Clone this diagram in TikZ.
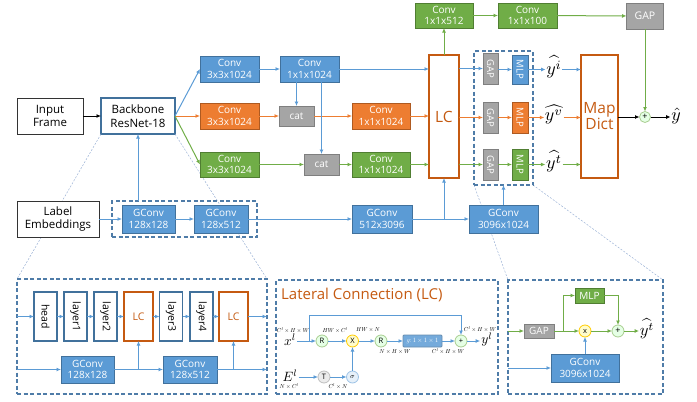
\documentclass[tikz,border=0pt]{standalone}
\usepackage[no-math]{fontspec}
\setmainfont{Open Sans}
\usetikzlibrary{arrows.meta,calc}
\definecolor{cB}{HTML}{5B9BD5}
\definecolor{cBd}{HTML}{41719C}
\definecolor{cO}{HTML}{ED7D31}
\definecolor{cOd}{HTML}{AE5A21}
\definecolor{cG}{HTML}{70AD47}
\definecolor{cGd}{HTML}{507E32}
\definecolor{cY}{HTML}{A5A5A5}
\definecolor{cYd}{HTML}{7F7F7F}
\definecolor{cLC}{HTML}{C55A11}
\definecolor{thinc}{HTML}{9DB3D6}
\definecolor{dashc}{HTML}{4F7CA8}
\newcommand{\mth}[2]{\scalebox{#1}{$#2$}}
\begin{document}
\begin{tikzpicture}[x=1pt,y=-1pt,
  bx/.style={draw, line width=0.8pt, inner sep=0pt, outer sep=0pt, align=center, text=white, font=\fontsize{10}{11.5}\selectfont},
  blu/.style={bx, fill=cB, draw=cBd},
  org/.style={bx, fill=cO, draw=cOd},
  grn/.style={bx, fill=cG, draw=cGd},
  gry/.style={bx, fill=cY, draw=cYd},
  wbox/.style={draw=black!80, line width=0.9pt, fill=white, inner sep=0pt, outer sep=0pt, align=center, text=black, font=\fontsize{11.5}{13.5}\selectfont},
  lcbox/.style={draw=cLC, line width=1.6pt, fill=white, inner sep=0pt, outer sep=0pt, align=center, text=cLC, font=\fontsize{15.5}{16}\selectfont},
  lay/.style={draw=cBd, line width=1.3pt, fill=white, inner sep=0pt, outer sep=0pt, minimum width=23pt, minimum height=49pt, font=\fontsize{10.5}{12}\selectfont},
  lcs/.style={draw=cLC, line width=1.3pt, fill=white, inner sep=0pt, outer sep=0pt, minimum width=29pt, minimum height=49pt, text=cLC, font=\fontsize{10.5}{12}\selectfont},
  dbox/.style={draw=dashc, line width=1.2pt, dash pattern=on 4pt off 2.5pt, inner sep=0pt, outer sep=0pt},
  arr/.style={-{Latex[length=4.5pt,width=4pt]}, line width=1pt},
  thin/.style={draw=thinc, line width=0.5pt, dash pattern=on 2pt off 1.5pt},
  rc/.style={circle, minimum size=12pt, inner sep=0pt, outer sep=0pt, draw, line width=0.8pt, font=\fontsize{7.5}{8}\selectfont},
  gc/.style={rc, fill=green!10!white, draw=cG!60!white},
  yc/.style={rc, fill=yellow!20!white, draw=orange!40!yellow},
  sl/.style={inner sep=0pt},
  ml/.style={inner sep=0.5pt},
  mm/.style={inner sep=1pt},
  lb/.style={draw=cB}, lo/.style={draw=cO}, lg/.style={draw=cG}
]
\useasboundingbox (0,0) rectangle (697,402);

% backbone first (for thin lines)
\node[wbox, draw=cBd, line width=1.6pt, minimum width=74pt, minimum height=36pt] (bb) at (138,116) {Backbone\\ResNet-18};
\coordinate (p1nw) at (17,279);
\coordinate (p1ne) at (267,279);
\coordinate (dbsw) at (474,185);
\coordinate (dbse) at (533,185);
\coordinate (p3nw) at (508,280);
\coordinate (p3ne) at (663,280);
\draw[thin] (bb.south west) -- (p1nw);
\draw[thin] (bb.south east) -- (p1ne);
\draw[thin] (dbsw) -- (p3nw);
\draw[thin] (dbse) -- (p3ne);

% main nodes
\node[wbox, minimum width=66pt, minimum height=36pt] (inp) at (50,116) {Input\\Frame};
\node[wbox, minimum width=82pt, minimum height=36pt] (lab) at (58,219) {Label\\Embeddings};

\node[blu, minimum width=59pt, minimum height=26pt] (c1b) at (229.5,69) {Conv\\3x3x1024};
\node[blu, minimum width=59pt, minimum height=26pt] (c2b) at (309.5,69) {Conv\\1x1x1024};
\node[org, minimum width=59pt, minimum height=26pt] (c1o) at (229.5,116) {Conv\\3x3x1024};
\node[gry, minimum width=35pt, minimum height=20pt] (cat1) at (296.5,116) {cat};
\node[org, minimum width=58pt, minimum height=26pt] (c2o) at (381,116) {Conv\\1x1x1024};
\node[grn, minimum width=59pt, minimum height=25pt] (c1g) at (229.5,164.5) {Conv\\3x3x1024};
\node[gry, minimum width=35pt, minimum height=21pt] (cat2) at (321.5,164.5) {cat};
\node[grn, minimum width=58pt, minimum height=25pt] (c2g) at (381,164.5) {Conv\\1x1x1024};

\node[lcbox, minimum width=30pt, minimum height=123pt] (lc) at (444,116.5) {LC};
\node[grn, minimum width=58pt, minimum height=25pt] (c512) at (444,15.5) {Conv\\1x1x512};
\node[grn, minimum width=59pt, minimum height=25pt] (c100) at (527.5,15.5) {Conv\\1x1x100};
\node[gry, minimum width=37pt, minimum height=26pt, font=\fontsize{10.5}{12}\selectfont] (gapt) at (645,16) {GAP};

\node[dbox, minimum width=59pt, minimum height=134pt] (db) at (503.5,118) {};
\node[gry, minimum width=15pt, minimum height=31pt, font=\fontsize{9.5}{11}\selectfont] (gap1) at (490.5,68.5) {\rotatebox{-90}{GAP}};
\node[gry, minimum width=15pt, minimum height=31pt, font=\fontsize{9.5}{11}\selectfont] (gap2) at (490.5,117.5) {\rotatebox{-90}{GAP}};
\node[gry, minimum width=15pt, minimum height=31pt, font=\fontsize{9.5}{11}\selectfont] (gap3) at (490.5,164.5) {\rotatebox{-90}{GAP}};
\node[blu, minimum width=16pt, minimum height=29pt, font=\fontsize{9.5}{11}\selectfont] (mlp1) at (520,69.5) {\rotatebox{-90}{MLP}};
\node[org, minimum width=16pt, minimum height=31pt, font=\fontsize{9.5}{11}\selectfont] (mlp2) at (520,117.5) {\rotatebox{-90}{MLP}};
\node[grn, minimum width=16pt, minimum height=31pt, font=\fontsize{9.5}{11}\selectfont] (mlp3) at (520,164.5) {\rotatebox{-90}{MLP}};

\node[ml] (yi) at (554,67) {\mth{1.8}{\widehat{y^{i}}}};
\node[ml] (yv) at (554,114.5) {\mth{1.8}{\widehat{y^{v}}}};
\node[ml] (yt) at (554,161.5) {\mth{1.8}{\widehat{y^{t}}}};
\node[lcbox, minimum width=37pt, minimum height=123pt] (md) at (599.5,116.5) {Map\\Dict};
\node[gc, minimum size=11pt, font=\fontsize{9}{9}\selectfont] (pl) at (645,117) {+};
\node[ml] (yh) at (676,116) {\mth{1.8}{\hat{y}}};

\node[dbox, minimum width=145pt, minimum height=36pt] (gdash) at (184.5,219) {};
\node[blu, minimum width=53pt, minimum height=28pt] (g1) at (148.5,219) {GConv\\128x128};
\node[blu, minimum width=54pt, minimum height=28pt] (g2) at (221,219) {GConv\\128x512};
\node[blu, minimum width=60pt, minimum height=28pt] (g3) at (382,219) {GConv\\512x3096};
\node[blu, minimum width=69pt, minimum height=28pt] (g4) at (503.5,219) {GConv\\3096x1024};

% main connectors
\draw[arr, black] (inp.east) -- (bb.west);
\draw[arr, lb] (bb.east) -- (c1b.west);
\draw[arr, lo] (bb.east) -- (c1o.west);
\draw[arr, lg] (bb.east) -- (c1g.west);
\draw[arr, lb] (c1b) -- (c2b);
\draw[arr, lo] (c1o) -- (cat1);
\draw[arr, lo] (cat1) -- (c2o);
\draw[arr, lo] (c2o.east) -- (c2o.east -| lc.west);
\draw[arr, lg] (c1g) -- (cat2);
\draw[arr, lg] (cat2) -- (c2g);
\draw[arr, lg] (c2g.east) -- (c2g.east -| lc.west);
\draw[arr, lb] (c2b.east) -- (c2b.east -| lc.west);
\draw[arr, lb] (c2b.south -| cat1.north) -- (cat1.north);
\draw[arr, lb] (c2b.south -| cat2.north) -- (cat2.north);
\draw[arr, lg] (lc.north) -- (c512.south);
\draw[arr, lg] (c512) -- (c100);
\draw[arr, lg] (c100) -- (gapt);
\draw[arr, lg] (gapt.south) -- (pl.north);
\draw[arr, lb] (lc.east |- gap1) -- (gap1.west);
\draw[arr, lo] (lc.east |- gap2) -- (gap2.west);
\draw[arr, lg] (lc.east |- gap3) -- (gap3.west);
\draw[arr, lb] (gap1.east |- mlp1) -- (mlp1.west);
\draw[arr, lo] (gap2) -- (mlp2);
\draw[arr, lg] (gap3) -- (mlp3);
\draw[arr, lb] (mlp1.east) -- (mlp1.east -| yi.west);
\draw[arr, lo] (mlp2.east) -- (mlp2.east -| yv.west);
\draw[arr, lg] (mlp3.east) -- (mlp3.east -| yt.west);
\draw[arr, lb] (yi.east |- mlp1.east) -- (mlp1.east -| md.west);
\draw[arr, lo] (yv.east |- mlp2.east) -- (mlp2.east -| md.west);
\draw[arr, lg] (yt.east |- mlp3.east) -- (mlp3.east -| md.west);
\draw[arr, black] (md.east |- pl) -- (pl.west);
\draw[arr, black] (pl.east) -- (yh.west |- pl);

\draw[arr, lb] (lab.east) -- (g1.west);
\draw[arr, lb] (g1) -- (g2);
\draw[arr, lb] (g2) -- (g3);
\draw[arr, lb] (g3) -- (g4);
\draw[arr, lb] (g3.east -| lc.south) -- (lc.south);
\draw[arr, lb] (g4.north) -- (g4.north |- db.south);
\draw[arr, lb] (gdash.north -| bb.south) -- (bb.south);

% panel 1
\node[dbox, minimum width=250pt, minimum height=115pt] (p1) at (142,336.5) {};
\node[lay] (hd) at (45.5,316.5) {\rotatebox{-90}{head}};
\node[lay] (l1) at (75.5,316.5) {\rotatebox{-90}{layer1}};
\node[lay] (l2) at (105.5,316.5) {\rotatebox{-90}{layer2}};
\node[lcs] (lca) at (138.5,316.5) {LC};
\node[lay] (l3) at (171,316.5) {\rotatebox{-90}{layer3}};
\node[lay] (l4) at (201.5,316.5) {\rotatebox{-90}{layer4}};
\node[lcs] (lcb) at (233.5,316.5) {LC};
\node[blu, minimum width=53pt, minimum height=27pt] (pg1) at (87.5,369.5) {GConv\\128x128};
\node[blu, minimum width=54pt, minimum height=27pt] (pg2) at (190,369.5) {GConv\\128x512};
\draw[arr, lb] (p1.west |- hd) -- (hd.west);
\draw[arr, lb] (hd) -- (l1);
\draw[arr, lb] (l1) -- (l2);
\draw[arr, lb] (l2) -- (lca);
\draw[arr, lb] (lca) -- (l3);
\draw[arr, lb] (l3) -- (l4);
\draw[arr, lb] (l4) -- (lcb);
\draw[arr, lb] (lcb.east) -- (p1.east |- lcb);
\draw[arr, lb] (p1.west |- pg1) -- (pg1.west);
\draw[arr, lb] (pg1) -- (pg2);
\draw[arr, lb] (pg1.east -| lca.south) -- (lca.south);
\draw[arr, lb] (pg2.east) -- (p1.east |- pg2);
\draw[arr, lb] (pg2.east -| lcb.south) -- (lcb.south);

% panel 2
\node[dbox, minimum width=222pt, minimum height=114pt] (p2) at (387,337) {};
\node[anchor=west, inner sep=0pt, text=cLC, font=\fontsize{15}{16}\selectfont] (ttl) at (281,295) {Lateral Connection (LC)};
\node[mm] (xl) at (290,339.5) {\mth{1.35}{x^{l}}};
\node[gc] (r1) at (322,341) {R};
\node[yc] (xx) at (352.5,341) {X};
\node[gc] (r2) at (381,341) {R};
\node[bx, fill=cB!85!white, draw=cBd!80!white, minimum width=39pt, minimum height=12pt, rounded corners=1pt] (gf) at (422.5,341) {\mth{0.65}{g\colon 1\times 1\times 1}};
\node[gc] (p2p) at (461,341) {+};
\node[mm] (yl) at (487,339.5) {\mth{1.35}{y^{l}}};
\node[mm] (el) at (290,376) {\mth{1.35}{E^{l}}};
\node[rc, fill=gray!15, draw=gray!50] (tt) at (324,377) {T};
\node[rc, fill=cB!15, draw=cB!60] (sg) at (352.5,377) {\mth{0.95}{\sigma}};
\coordinate (sk) at (309,341);
\draw[arr, lb] (xl.east |- r1) -- (r1.west);
\draw[arr, lb] (r1) -- (xx);
\draw[arr, lb] (xx) -- (r2);
\draw[arr, lb] (r2) -- (gf);
\draw[arr, lb] (gf) -- (p2p);
\draw[arr, lb] (p2p.east) -- (yl.west |- p2p);
\draw[arr, lb] (sk) -- ++(0,-26) -| (p2p.north);
\draw[arr, lb] (el.east |- tt) -- (tt.west);
\draw[arr, lb] (tt) -- (sg);
\draw[arr, lb] (sg) -- (xx);
\node[sl] (s1) at (293,330) {\mth{0.58}{C^{l}\times H\times W}};
\node[sl] (s2) at (335,330) {\mth{0.58}{HW\times C^{l}}};
\node[sl] (s3) at (368,330) {\mth{0.58}{HW\times N}};
\node[sl] (s4) at (395,351.5) {\mth{0.58}{N\times H\times W}};
\node[sl] (s5) at (448,351.5) {\mth{0.58}{C^{l}\times H\times W}};
\node[sl] (s6) at (480,329) {\mth{0.58}{C^{l}\times H\times W}};
\node[sl] (s7) at (289,386.5) {\mth{0.58}{N\times C^{l}}};
\node[sl] (s8) at (338,386.5) {\mth{0.58}{C^{l}\times N}};

% panel 3
\node[dbox, minimum width=155pt, minimum height=114pt] (p3) at (585.5,337) {};
\node[gry, minimum width=30pt, minimum height=14pt, font=\fontsize{10}{11}\selectfont] (gd3) at (539,331) {GAP};
\node[grn, minimum width=29pt, minimum height=15pt, font=\fontsize{10}{11}\selectfont] (mlpd) at (589.5,295.5) {MLP};
\node[yc] (xd) at (585,331) {x};
\node[gc, font=\fontsize{9}{9}\selectfont] (pd) at (618,331) {+};
\node[ml] (ytd) at (647,328.5) {\mth{1.65}{\widehat{y^{t}}}};
\node[blu, minimum width=68pt, minimum height=28pt, font=\fontsize{10}{11.5}\selectfont] (gd) at (585,368) {GConv\\3096x1024};
\coordinate (br) at (563,331);
\draw[arr, lg] (p3.west |- gd3) -- (gd3.west);
\draw[arr, lg] (gd3) -- (xd);
\draw[arr, lg] (br) |- (mlpd.west);
\draw[arr, lg] (mlpd.east) -| (pd.north);
\draw[arr, lg] (xd) -- (pd);
\draw[arr, lg] (pd.east) -- (ytd.west |- pd);
\draw[arr, lb] (gd.north) -- (xd.south);
\draw[arr, lb] (p3.west |- gd) -- (gd.west);
\end{tikzpicture}
\end{document}
